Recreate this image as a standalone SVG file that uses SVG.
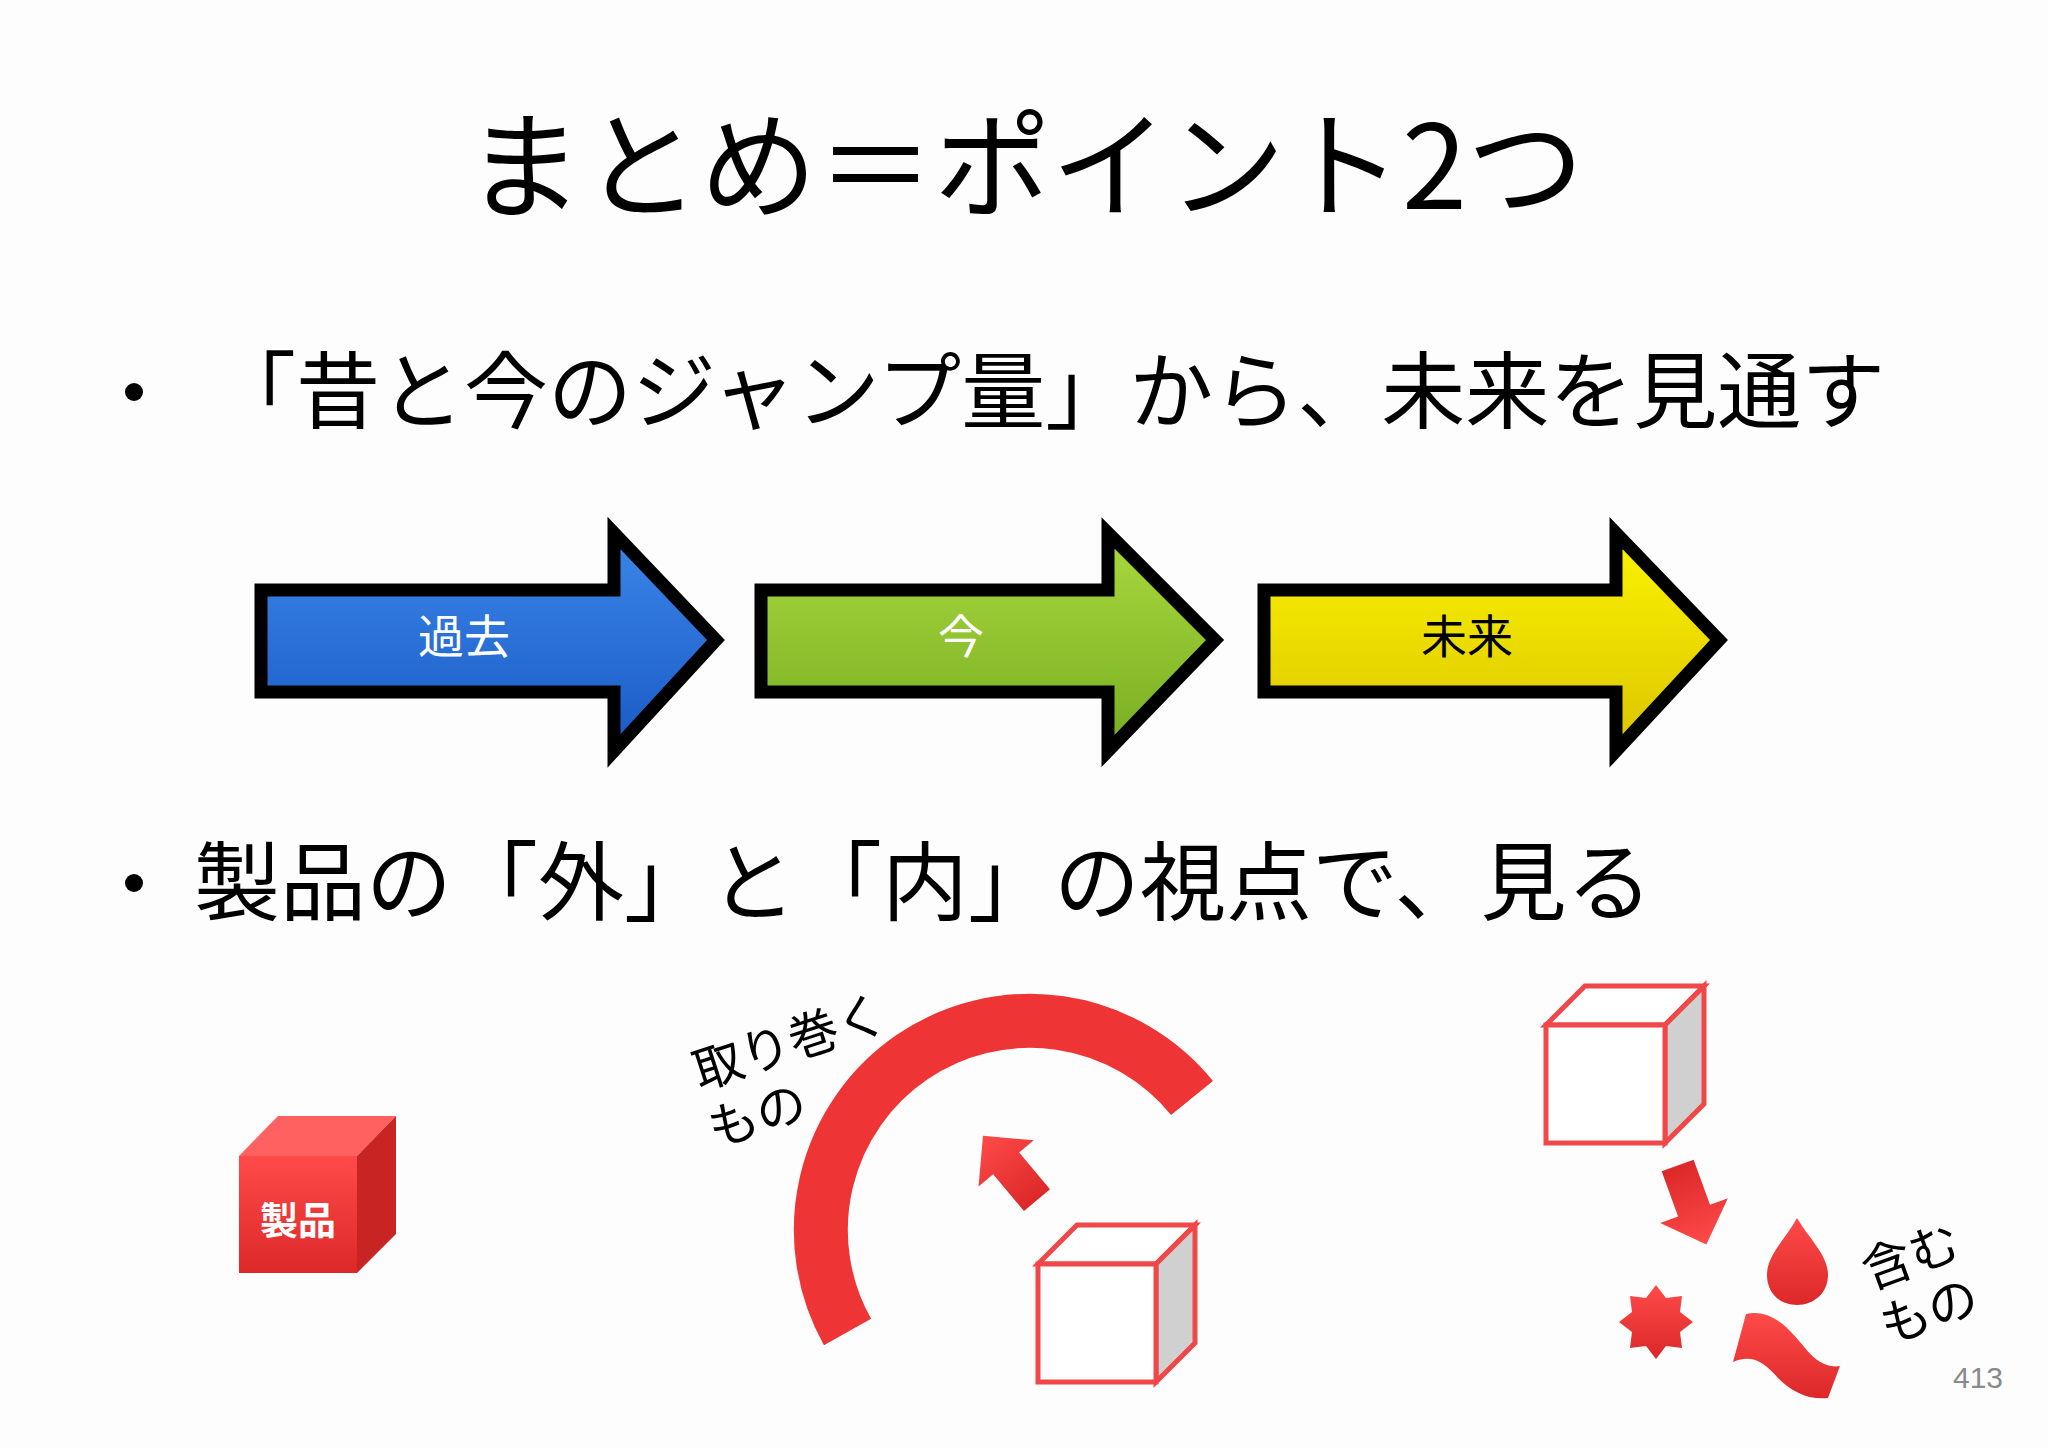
<svg xmlns="http://www.w3.org/2000/svg" width="2048" height="1448" viewBox="0 0 2048 1448">
<style>
.jp{font-family:"Noto Sans CJK JP","Noto Sans",sans-serif;}
.arrow{stroke:#000;stroke-width:13;stroke-linejoin:miter;}
.lbl{font-size:46px;text-anchor:middle;}
.wire{fill:#fff;stroke:#f04848;stroke-width:5;stroke-linejoin:miter;}
.red{fill:url(#rg);}
</style>
<defs>
<linearGradient id="bl" x1="0" y1="0" x2="0" y2="1"><stop offset="0" stop-color="#3b86e8"/><stop offset="1" stop-color="#1a5ac6"/></linearGradient>
<linearGradient id="gr" x1="0" y1="0" x2="0" y2="1"><stop offset="0" stop-color="#a9d93e"/><stop offset="1" stop-color="#78ad22"/></linearGradient>
<linearGradient id="ye" x1="0" y1="0" x2="0" y2="1"><stop offset="0" stop-color="#fbf400"/><stop offset="1" stop-color="#dcc400"/></linearGradient>
<linearGradient id="rg" x1="0" y1="0" x2="0" y2="1"><stop offset="0" stop-color="#ff4a4a"/><stop offset="1" stop-color="#dc2828"/></linearGradient>
<path id="arr" d="M0,-42 L36,-6 L17,-6 L17,42 L-17,42 L-17,-6 L-36,-6 Z"/>
</defs>
<rect width="2048" height="1448" fill="#fdfdfd"/>
<text class="jp" x="1025" y="209" font-size="117" text-anchor="middle">まとめ＝ポイント2つ</text>
<g id="bullet1">
<circle cx="134" cy="392" r="9"/>
<text class="jp" x="212" y="422" font-size="84">「昔と今のジャンプ量」から、未来を見通す</text>
</g>
<g id="bullet2">
<circle cx="134" cy="883" r="9"/>
<text class="jp" x="194" y="914" font-size="86">製品の「外」と「内」の視点で、見る</text>
</g>
<g id="past">
<path class="arrow" fill="url(#bl)" d="M261,590 L614,590 L614,533 L716,640 L614,751 L614,692 L261,692 Z"/>
<text class="jp lbl" x="464" y="653" fill="#fff">過去</text>
</g>
<g id="now">
<path class="arrow" fill="url(#gr)" d="M761,590 L1108,590 L1108,533 L1215,640 L1108,751 L1108,692 L761,692 Z"/>
<text class="jp lbl" x="961" y="653" fill="#fff">今</text>
</g>
<g id="future">
<path class="arrow" fill="url(#ye)" d="M1264,590 L1616,590 L1616,533 L1719,640 L1616,751 L1616,692 L1264,692 Z"/>
<text class="jp lbl" x="1467" y="653" fill="#000">未来</text>
</g>
<g id="product">
<path d="M239,1156 L278,1116 L396,1116 L357,1156 Z" fill="#ff6060"/>
<path d="M357,1156 L396,1116 L396,1234 L357,1273 Z" fill="#c82424"/>
<rect x="239" y="1156" width="118" height="117" fill="url(#rg)"/>
<text class="jp" x="298" y="1234" font-size="38" font-weight="bold" fill="#fff" text-anchor="middle">製品</text>
</g>
<g id="surround">
<path d="M847.5,1332 A209,209 0 0 1 1192,1098" fill="none" stroke="#ee3434" stroke-width="54"/>
<use href="#arr" class="red" transform="translate(1010,1168) rotate(-40)"/>
<text class="jp" font-size="50" transform="translate(700,1090) rotate(-18)">取り巻く</text>
<text class="jp" font-size="50" transform="translate(715,1148) rotate(-18)">もの</text>
<path class="wire" d="M1038,1264 L1077,1225 L1195,1225 L1156,1264 Z"/>
<path class="wire" d="M1156,1264 L1195,1225 L1195,1343 L1156,1382 Z" style="fill:#d0d0d0"/>
<rect class="wire" x="1038" y="1264" width="118" height="118"/>
</g>
<g id="contain">
<path class="wire" d="M1546,1025 L1585,986 L1704,986 L1665,1025 Z"/>
<path class="wire" d="M1665,1025 L1704,986 L1704,1104 L1665,1143 Z" style="fill:#d0d0d0"/>
<rect class="wire" x="1546" y="1025" width="119" height="118"/>
<use href="#arr" class="red" transform="translate(1692,1205) rotate(160)"/>
<path class="red" d="M1797,1218 C1810,1240 1828,1255 1828,1275 C1828,1293 1814,1305 1797,1305 C1780,1305 1767,1293 1767,1275 C1767,1255 1785,1240 1797,1218 Z"/>
<path class="red" d="M1656,1285 L1666,1298 L1682,1296 L1680,1312 L1693,1322 L1680,1332 L1682,1348 L1666,1346 L1656,1359 L1646,1346 L1630,1348 L1632,1332 L1619,1322 L1632,1312 L1630,1296 L1646,1298 Z"/>
<path class="red" d="M1746,1314 C1772,1308 1790,1330 1805,1348 C1816,1362 1828,1368 1840,1366 L1828,1398 C1808,1400 1792,1392 1778,1378 C1764,1362 1752,1354 1733,1362 Z"/>
<text class="jp" font-size="50" transform="translate(1870,1290) rotate(-20)">含む</text>
<text class="jp" font-size="50" transform="translate(1888,1345) rotate(-20)">もの</text>
</g>
<text x="1978" y="1388" font-family="Liberation Sans,sans-serif" font-size="30" fill="#8a8a8a" text-anchor="middle">413</text>
</svg>
